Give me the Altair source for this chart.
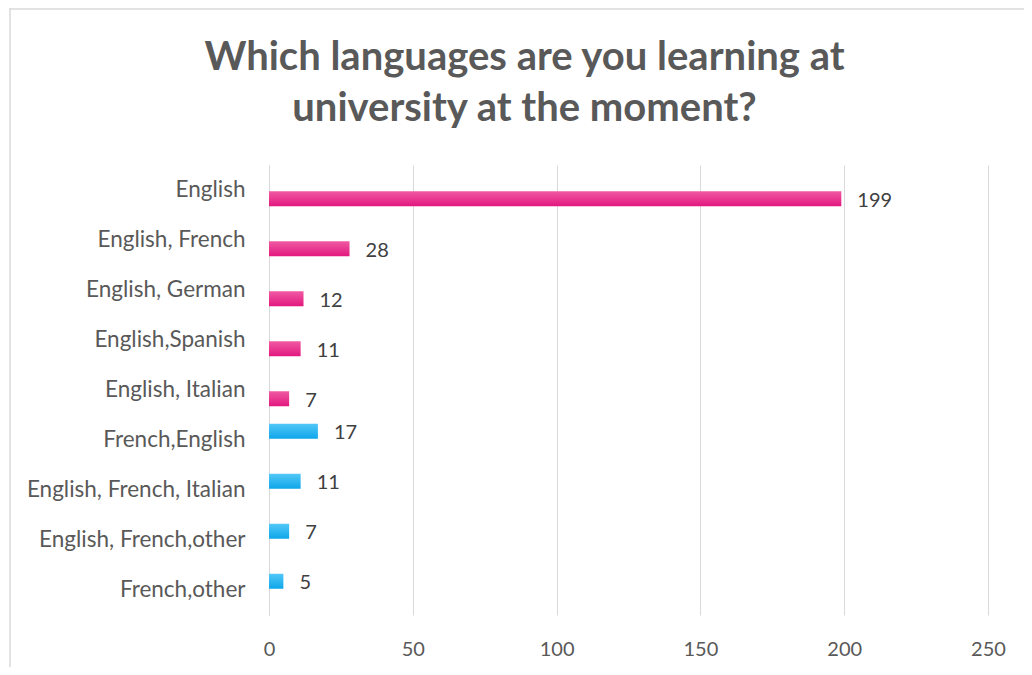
import altair as alt
import pandas as pd

categories = ["English", "English, French", "English, German", "English,Spanish",
              "English, Italian", "French,English", "English, French, Italian",
              "English, French,other", "French,other"]
values = [199, 28, 12, 11, 7, 17, 11, 7, 5]
series = ["A", "A", "A", "A", "A", "B", "B", "B", "B"]
x_ticks = [0, 50, 100, 150, 200, 250]

df = pd.DataFrame({"cat": categories, "val": values, "series": series})

FONT = "Lato"
GRAY = "#595959"

y_enc = alt.Y("cat:N", sort=categories, title=None,
              scale=alt.Scale(paddingInner=0, paddingOuter=0),
              axis=alt.Axis(labelFont=FONT, labelFontSize=22.5, labelColor=GRAY,
                            labelPadding=24, ticks=False, domain=True,
                            domainColor="#D9D9D9", labelLimit=400))
yoff_enc = alt.YOffset("series:N", scale=alt.Scale(domain=["B", "A"],
                                                    paddingInner=0.143, paddingOuter=0.5))
x_enc = alt.X("val:Q", title=None,
              scale=alt.Scale(domain=[0, 250], nice=False),
              axis=alt.Axis(values=x_ticks, labelFont=FONT, labelFontSize=20,
                            labelColor=GRAY, labelPadding=24, ticks=False,
                            labelFlush=False,
                            domain=False, grid=True, gridColor="#D9D9D9"))

pink = alt.Gradient(gradient="linear", x1=0, x2=0, y1=0, y2=1,
                    stops=[alt.GradientStop(color="#F05AA3", offset=0),
                           alt.GradientStop(color="#E2187F", offset=1)])
blue = alt.Gradient(gradient="linear", x1=0, x2=0, y1=0, y2=1,
                    stops=[alt.GradientStop(color="#52C8F7", offset=0),
                           alt.GradientStop(color="#0EA6EA", offset=1)])

base = alt.Chart(df)
bars_a = base.transform_filter(alt.datum.series == "A").mark_bar(color=pink).encode(
    y=y_enc, yOffset=yoff_enc, x=x_enc)
bars_b = base.transform_filter(alt.datum.series == "B").mark_bar(color=blue).encode(
    y=y_enc, yOffset=yoff_enc, x=x_enc)
labels = base.mark_text(align="left", baseline="middle", dx=16, dy=2, font=FONT,
                        fontSize=20, color="#404040").encode(
    y=y_enc, yOffset=yoff_enc, x=x_enc, text="val:Q")

border_df = pd.DataFrame({"k": [0]})
border_left = alt.Chart(border_df).mark_rule(color="#D9D9D9", strokeWidth=1.5).encode(
    x=alt.value(-259), y=alt.value(-157), y2=alt.value(700))
border_top = alt.Chart(border_df).mark_rule(color="#D9D9D9", strokeWidth=1.5).encode(
    x=alt.value(-259), x2=alt.value(800), y=alt.value(-156))

chart = alt.layer(bars_a, bars_b, labels, border_left, border_top).properties(
    width=719, height=450,
    padding={"left": 261, "top": 157, "right": 36, "bottom": 52},
    autosize=alt.AutoSizeParams(type="none"),
    title=alt.TitleParams(
        text=["Which languages are you learning at", "university at the moment?"],
        font=FONT, fontSize=40, fontWeight="bold", color=GRAY,
        lineHeight=51, anchor="middle", frame="group", dx=-104, offset=-122),
).configure_view(stroke=None)

chart.save("out.html", embed_options={"renderer": "svg", "actions": False})
